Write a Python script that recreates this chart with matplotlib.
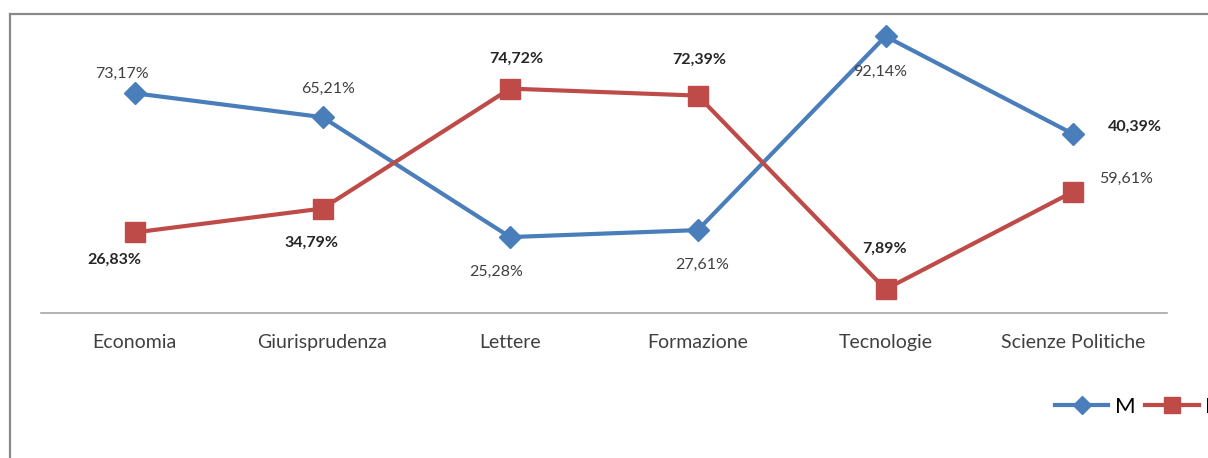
import matplotlib.pyplot as plt
from matplotlib.lines import Line2D

plt.rcParams['font.family'] = ['Lato', 'DejaVu Sans']

facolta = ['Economia', 'Giurisprudenza', 'Lettere', 'Formazione', 'Tecnologie', 'Scienze Politiche']
maschi = [73.17, 65.21, 25.28, 27.61, 92.14, 59.61]
femmine = [26.83, 34.79, 74.72, 72.39, 7.89, 40.39]
etichetteM = ['73,17%', '65,21%', '25,28%', '27,61%', '92,14%', '59,61%']
etichetteF = ['26,83%', '34,79%', '74,72%', '72,39%', '7,89%', '40,39%']

# spostamento delle etichette (pixel)
offM = [(-13, 19), (6, 28), (-14, -35), (4, -35), (-5, -36), (53, -45)]
offF = [(-20, -27), (-11, -34), (6, 30), (1, 36), (-1, 41), (62, 65)]

blu = '#4A7EBB'
rosso = '#BE4B48'

fig = plt.figure(figsize=(12.08, 4.58), dpi=100)
ax = fig.add_axes([41 / 1208, 1 - 313 / 458, 1126 / 1208, 300.3 / 458])

x = list(range(len(facolta)))
ax.plot(x, maschi, color=blu, lw=3, marker='D', ms=11, label='M', zorder=3)
ax.plot(x, femmine, color=rosso, lw=3, marker='s', ms=14, label='F', zorder=3)

for i in x:
    ax.annotate(etichetteM[i], (i, maschi[i]), xytext=offM[i], textcoords='offset pixels',
                ha='center', va='center', fontsize=11.5, color='#404040')
    ax.annotate(etichetteF[i], (i, femmine[i]), xytext=offF[i], textcoords='offset pixels',
                ha='center', va='center', fontsize=11.5, color='#262626', fontweight='bold')

ax.set_xlim(-0.5, 5.5)
ax.set_ylim(0, 100)
ax.set_xticks(x)
ax.set_xticklabels(facolta, fontsize=14, color='#404040')
ax.tick_params(axis='x', length=0, pad=15)
ax.set_yticks([])
for s in ['top', 'right', 'left']:
    ax.spines[s].set_visible(False)
ax.spines['bottom'].set_color('#A6A6A6')
ax.spines['bottom'].set_linewidth(1.2)

# bordo del grafico
fig.add_artist(Line2D([10 / 1208, 10 / 1208], [0, 1 - 14 / 458], color='#898989', lw=1.6,
                      transform=fig.transFigure))
fig.add_artist(Line2D([10 / 1208, 1], [1 - 14 / 458, 1 - 14 / 458], color='#898989', lw=1.6,
                      transform=fig.transFigure))

fig.legend(loc='center left', bbox_to_anchor=(1055 / 1208, 1 - 407 / 458), ncol=2,
           frameon=False, fontsize=16, handlelength=2.4, handletextpad=0.28,
           columnspacing=0.45, markerscale=0.8, borderpad=0, borderaxespad=0)

fig.savefig('out.png', dpi=100)
